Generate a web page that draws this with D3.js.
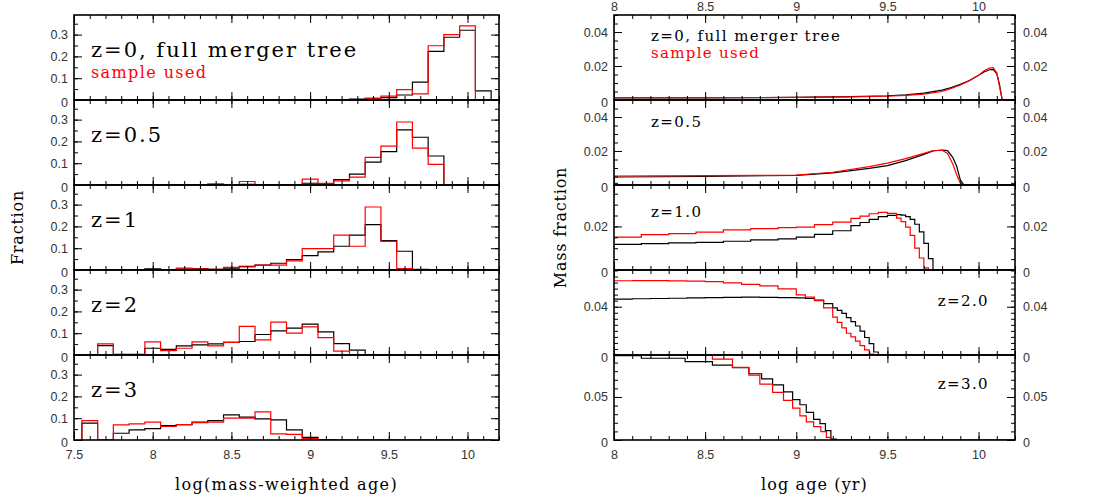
<!DOCTYPE html>
<html>
<head>
<meta charset="utf-8">
<script src="https://cdn.jsdelivr.net/npm/d3@7"></script>
<style>
  body { margin: 0; background: #fff; }
  .tick text { font-family: "Liberation Sans", Arial, sans-serif; font-size: 12.5px; fill: #333; }
  .lab { font-family: "DejaVu Serif", serif; }
</style>
</head>
<body>
<div id="svgchart"></div>
<script>
// ---- left: histograms of mass-weighted age (bin centres, width 0.1) ----
const binCenters = [7.6, 7.7, 7.8, 7.9, 8.0, 8.1, 8.2, 8.3, 8.4, 8.5, 8.6, 8.7, 8.8,
  8.9, 9.0, 9.1, 9.2, 9.3, 9.4, 9.5, 9.6, 9.7, 9.8, 9.9, 10.0, 10.1];

const histFullZ0 = [0, 0, 0, 0, 0, 0, 0, 0, 0, 0, 0, 0, 0, 0, 0, 0, 0,
  0.004, 0.008, 0.011, 0.023, 0.082, 0.223, 0.288, 0.32, 0.042];
const histSampleZ0 = [0, 0, 0, 0, 0, 0, 0, 0, 0, 0, 0, 0, 0, 0, 0, 0, 0,
  0.002, 0.008, 0.018, 0.048, 0.028, 0.249, 0.30, 0.34, 0];

const histFullZ05 = [0, 0, 0, 0, 0, 0, 0, 0, 0.002, 0, 0.003, 0, 0, 0,
  0.008, 0.005, 0.025, 0.05, 0.105, 0.153, 0.253, 0.219, 0.133, 0, 0, 0];
const histSampleZ05 = [0, 0, 0, 0, 0, 0, 0, 0, 0.005, 0, 0.016, 0, 0, 0,
  0.027, 0.008, 0.019, 0.036, 0.127, 0.178, 0.289, 0.169, 0.095, 0, 0, 0];

const histFullZ1 = [0, 0, 0, 0, 0.005, 0.002, 0.004, 0.006, 0.003, 0.008, 0.017, 0.022,
  0.031, 0.048, 0.066, 0.083, 0.109, 0.16, 0.208, 0.135, 0.086, 0.003, 0, 0, 0, 0];
const histSampleZ1 = [0, 0, 0, 0, 0.002, 0.001, 0.009, 0.005, 0.003, 0.012, 0.014, 0.022,
  0.022, 0.042, 0.098, 0.098, 0.16, 0.109, 0.289, 0.131, 0.006, 0, 0, 0, 0, 0];

const histFullZ2 = [0, 0.043, 0.003, 0.003, 0.031, 0.026, 0.042, 0.046, 0.051, 0.058, 0.062,
  0.094, 0.111, 0.123, 0.142, 0.106, 0.052, 0.022, 0, 0, 0, 0, 0, 0, 0, 0];
const histSampleZ2 = [0, 0.051, 0, 0, 0.06, 0.02, 0.031, 0.06, 0.042, 0.058, 0.131,
  0.069, 0.151, 0.1, 0.129, 0.08, 0.018, 0, 0, 0, 0, 0, 0, 0, 0, 0];

const histFullZ3 = [0.077, 0, 0.031, 0.046, 0.052, 0.066, 0.071, 0.082, 0.089, 0.115, 0.105,
  0.097, 0.092, 0.046, 0.012, 0.002, 0, 0, 0, 0, 0, 0, 0, 0, 0, 0];
const histSampleZ3 = [0.089, 0, 0.069, 0.074, 0.082, 0.062, 0.071, 0.08, 0.082, 0.1, 0.1,
  0.129, 0.028, 0.026, 0.006, 0, 0, 0, 0, 0, 0, 0, 0, 0, 0, 0];

const leftLabels = ['z=0, full merger tree', 'z=0.5', 'z=1', 'z=2', 'z=3'];
const leftTicks = [0, 0.1, 0.2, 0.3];
const leftXTicks = [7.5, 8, 8.5, 9, 9.5, 10];

// ---- right: mass fraction vs log age ----
const ageZ0 = [8.0, 8.5, 9.0, 9.3, 9.5, 9.6, 9.7, 9.8, 9.85, 9.9, 9.95, 10.0, 10.03, 10.06, 10.08, 10.1, 10.115, 10.13, 10.2];
const fullZ0 = [0.0012, 0.0013, 0.0015, 0.002, 0.0025, 0.003, 0.004, 0.0058, 0.0073, 0.0092, 0.0115, 0.0145, 0.0165, 0.0178, 0.018, 0.0155, 0.009, 0, 0];
const sampleZ0 = [0.0014, 0.0014, 0.0015, 0.0018, 0.0022, 0.0027, 0.0035, 0.005, 0.0068, 0.0088, 0.0113, 0.0145, 0.0172, 0.0188, 0.019, 0.016, 0.008, 0, 0];

const ageZ05 = [8.0, 8.5, 9.0, 9.2, 9.4, 9.5, 9.6, 9.7, 9.75, 9.8, 9.83, 9.86, 9.88, 9.9, 9.92, 10.2];
const fullZ05 = [0.0047, 0.005, 0.0057, 0.0071, 0.0098, 0.0114, 0.0143, 0.018, 0.02, 0.0206, 0.0202, 0.016, 0.011, 0.003, 0, 0];
const sampleZ05 = [0.0053, 0.0055, 0.0058, 0.0075, 0.0108, 0.0129, 0.0155, 0.0186, 0.0203, 0.0204, 0.0185, 0.012, 0.006, 0.001, 0, 0];

const ageZ1 = [8.0, 8.15, 8.3, 8.45, 8.6, 8.75, 8.9, 9.0, 9.1, 9.2, 9.3, 9.35, 9.4, 9.45, 9.5,
  9.55, 9.575, 9.6, 9.625, 9.65, 9.675, 9.7, 9.725, 9.75, 10.2];
const fullZ1 = [0.0118, 0.0121, 0.0124, 0.0127, 0.0132, 0.0138, 0.0143, 0.0151, 0.0163, 0.018, 0.0204, 0.0218, 0.0232, 0.0245, 0.0251,
  0.0254, 0.0252, 0.0245, 0.0232, 0.021, 0.0175, 0.0122, 0.0052, 0, 0];
const sampleZ1 = [0.0151, 0.0162, 0.0167, 0.0174, 0.0184, 0.019, 0.0194, 0.0197, 0.0208, 0.022, 0.0237, 0.0247, 0.0258, 0.0264, 0.026,
  0.0238, 0.0222, 0.0197, 0.0159, 0.01, 0.0055, 0.001, 0, 0, 0];

const ageZ2 = [8.0, 8.1, 8.2, 8.3, 8.4, 8.5, 8.6, 8.7, 8.8, 8.9, 9.0, 9.05, 9.1, 9.15, 9.2, 9.225,
  9.25, 9.275, 9.3, 9.325, 9.35, 9.375, 9.4, 9.425, 9.45, 10.2];
const fullZ2 = [0.0463, 0.0466, 0.0468, 0.047, 0.0473, 0.0476, 0.0478, 0.048, 0.0478, 0.0476, 0.0473, 0.0468, 0.0455, 0.0425, 0.039, 0.037,
  0.0345, 0.031, 0.0276, 0.024, 0.0198, 0.0145, 0.0095, 0.0025, 0, 0];
const sampleZ2 = [0.0615, 0.0616, 0.0616, 0.0614, 0.0612, 0.0608, 0.0598, 0.0585, 0.0572, 0.0548, 0.0498, 0.048, 0.045, 0.039, 0.0314, 0.027,
  0.0225, 0.018, 0.015, 0.0115, 0.0078, 0.0042, 0.0008, 0, 0, 0];

const ageFullZ3 = [8.0, 8.15, 8.39, 8.54, 8.65, 8.74, 8.81, 8.87, 8.93, 8.98, 9.02, 9.055, 9.095, 9.13, 9.16, 9.19, 9.22, 10.2];
const fullZ3 = [0.098, 0.095, 0.091, 0.087, 0.084, 0.077, 0.071, 0.064, 0.056, 0.047, 0.041, 0.032, 0.024, 0.019, 0.011, 0.001, 0, 0];
const ageSampleZ3 = [8.0, 8.54, 8.65, 8.74, 8.80, 8.87, 8.93, 8.98, 9.02, 9.055, 9.095, 9.135, 9.165, 9.19, 10.2];
const sampleZ3 = [0.11, 0.094, 0.0845, 0.0755, 0.065, 0.0554, 0.046, 0.037, 0.028, 0.021, 0.0155, 0.0097, 0.003, 0, 0];

const rightLabels = ['z=0, full merger tree', 'z=0.5', 'z=1.0', 'z=2.0', 'z=3.0'];
const rightYMax = [0.05, 0.05, 0.039, 0.0704, 0.0988];
const rightTicks = [[0, 0.02, 0.04], [0, 0.02, 0.04], [0, 0.02], [0, 0.04], [0, 0.05]];
const rightMinorStep = [0.005, 0.005, 0.005, 0.005, 0.01];
const rightXTicks = [8, 8.5, 9, 9.5, 10];

// ---- layout ----
var width = 1093, height = 503;
var panelTops = [15, 100, 185, 270, 355], panelH = 85;
var leftX0 = 74, leftX1 = 499, rightX0 = 614, rightX1 = 1015;

var svg = d3.select('#svgchart').append('svg')
  .attr('width', width).attr('height', height);

var xL = d3.scaleLinear().domain([7.5, 10.2]).range([leftX0, leftX1]);
var xR = d3.scaleLinear().domain([8, 10.2]).range([rightX0, rightX1]);

function range(a, b, s) {
  return d3.range(Math.round(a / s), Math.round(b / s) + 1).map(k => +(k * s).toFixed(4));
}

// x ticks on top + bottom of a panel, inward; optional labels
function xTicks(g, x, top, dom, labelBottom, labelTop, labels) {
  var minor = range(dom[0], dom[1], 0.1);
  var major = range(Math.ceil(dom[0] * 2) / 2, dom[1], 0.5);
  g.append('g').attr('transform', 'translate(0,' + (top + panelH) + ')')
    .call(d3.axisBottom(x).tickValues(minor).tickSize(-4).tickFormat(''));
  g.append('g').attr('transform', 'translate(0,' + (top + panelH) + ')')
    .call(d3.axisBottom(x).tickValues(labelBottom ? labels : major).tickSize(-8).tickPadding(10)
      .tickFormat(labelBottom ? d3.format('') : ''));
  g.append('g').attr('transform', 'translate(0,' + top + ')')
    .call(d3.axisTop(x).tickValues(minor).tickSize(-4).tickFormat(''));
  g.append('g').attr('transform', 'translate(0,' + top + ')')
    .call(d3.axisTop(x).tickValues(labelTop ? labels : major).tickSize(-8).tickPadding(4)
      .tickFormat(labelTop ? d3.format('') : ''));
}

function yTicks(g, y, xPos, side, major, minor, showLabels) {
  var ax = side === 'left' ? d3.axisLeft : d3.axisRight;
  g.append('g').attr('transform', 'translate(' + xPos + ',0)')
    .call(ax(y).tickValues(minor).tickSize(-4).tickFormat(''));
  var a = g.append('g').attr('transform', 'translate(' + xPos + ',0)')
    .call(ax(y).tickValues(major).tickSize(-8).tickPadding(side === 'left' ? 6 : 8)
      .tickFormat(showLabels ? d3.format('') : ''));
  a.selectAll('.tick text').filter(d => d === 0).attr('dy', '0.55em');
}

function cleanAxes(g) {
  g.selectAll('.domain').remove();
  g.selectAll('.tick line').attr('stroke', '#000').attr('stroke-width', 1);
}

var line = d3.line();

// ---- left plot ----
var leftPanels = [
  [histFullZ0, histSampleZ0], [histFullZ05, histSampleZ05], [histFullZ1, histSampleZ1],
  [histFullZ2, histSampleZ2], [histFullZ3, histSampleZ3]
];
var half = (binCenters[1] - binCenters[0]) / 2;

function histPoints(vals) {
  var pts = [[binCenters[0] - half, 0]];
  vals.forEach(function (v, i) {
    pts.push([binCenters[i] - half, v]);
    pts.push([binCenters[i] + half, v]);
  });
  pts.push([binCenters[binCenters.length - 1] + half, 0]);
  return pts;
}

leftPanels.forEach(function (p, i) {
  var top = panelTops[i];
  var y = d3.scaleLinear().domain([0, 0.39]).range([top + panelH, top]);
  var g = svg.append('g');
  var id = 'clipL' + i;
  svg.append('clipPath').attr('id', id).append('rect')
    .attr('x', leftX0).attr('y', top).attr('width', leftX1 - leftX0).attr('height', panelH);
  var colors = ['#000', '#ff0000'];
  p.forEach(function (vals, k) {
    g.append('path')
      .attr('clip-path', 'url(#' + id + ')')
      .attr('d', line(histPoints(vals).map(d => [xL(d[0]), y(d[1])])))
      .attr('fill', 'none').attr('stroke', colors[k]).attr('stroke-width', 1.2);
  });
  var ax = svg.append('g');
  yTicks(ax, y, leftX0, 'left', leftTicks, range(0, 0.35, 0.05), true);
  yTicks(ax, y, leftX1, 'right', leftTicks, range(0, 0.35, 0.05), false);
  xTicks(ax, xL, top, [7.5, 10.2], i === 4, false, leftXTicks);
  cleanAxes(ax);
  svg.append('rect').attr('x', leftX0).attr('y', top).attr('width', leftX1 - leftX0)
    .attr('height', panelH).attr('fill', 'none').attr('stroke', '#000').attr('stroke-width', 1.6);
  svg.append('text').attr('class', 'lab').attr('x', 91).attr('y', top + 42)
    .attr('font-size', 21).attr('letter-spacing', 2).text(leftLabels[i]);
});
svg.append('text').attr('class', 'lab').attr('x', 91).attr('y', 78)
  .attr('font-size', 16).attr('fill', '#ff0000').attr('letter-spacing', 1.4).text('sample used');

// ---- right plot ----
var rightPanels = [
  { fa: ageZ0, f: fullZ0, sa: ageZ0, s: sampleZ0, curve: d3.curveLinear },
  { fa: ageZ05, f: fullZ05, sa: ageZ05, s: sampleZ05, curve: d3.curveLinear },
  { fa: ageZ1, f: fullZ1, sa: ageZ1, s: sampleZ1, curve: d3.curveStepAfter },
  { fa: ageZ2, f: fullZ2, sa: ageZ2, s: sampleZ2, curve: d3.curveStepAfter },
  { fa: ageFullZ3, f: fullZ3, sa: ageSampleZ3, s: sampleZ3, curve: d3.curveStepAfter }
];
var labelPos = [
  { x: 651, dy: 26, anchor: 'start' }, { x: 651, dy: 27, anchor: 'start' },
  { x: 651, dy: 32, anchor: 'start' }, { x: 989, dy: 36, anchor: 'end' },
  { x: 989, dy: 34, anchor: 'end' }
];

rightPanels.forEach(function (p, i) {
  var top = panelTops[i];
  var y = d3.scaleLinear().domain([0, rightYMax[i]]).range([top + panelH, top]);
  var id = 'clipR' + i;
  svg.append('clipPath').attr('id', id).append('rect')
    .attr('x', rightX0).attr('y', top).attr('width', rightX1 - rightX0).attr('height', panelH);
  var g = svg.append('g').attr('clip-path', 'url(#' + id + ')');
  var ln = d3.line().x(d => xR(d[0])).y(d => y(d[1])).curve(p.curve);
  g.append('path').attr('d', ln(p.fa.map((a, k) => [a, p.f[k]])))
    .attr('fill', 'none').attr('stroke', '#000').attr('stroke-width', 1.2);
  g.append('path').attr('d', ln(p.sa.map((a, k) => [a, p.s[k]])))
    .attr('fill', 'none').attr('stroke', '#ff0000').attr('stroke-width', 1.2);
  var ax = svg.append('g');
  var minor = range(0, rightYMax[i], rightMinorStep[i]);
  yTicks(ax, y, rightX0, 'left', rightTicks[i], minor, true);
  yTicks(ax, y, rightX1, 'right', rightTicks[i], minor, true);
  xTicks(ax, xR, top, [8, 10.2], i === 4, i === 0, rightXTicks);
  cleanAxes(ax);
  svg.append('rect').attr('x', rightX0).attr('y', top).attr('width', rightX1 - rightX0)
    .attr('height', panelH).attr('fill', 'none').attr('stroke', '#000').attr('stroke-width', 1.6);
  svg.append('text').attr('class', 'lab').attr('x', labelPos[i].x).attr('y', top + labelPos[i].dy)
    .attr('text-anchor', labelPos[i].anchor).attr('font-size', 15).attr('letter-spacing', 1.4)
    .text(rightLabels[i]);
});
svg.append('text').attr('class', 'lab').attr('x', 651).attr('y', 58)
  .attr('font-size', 15).attr('fill', '#ff0000').attr('letter-spacing', 1.3).text('sample used');

// ---- axis titles ----
svg.append('text').attr('class', 'lab').attr('text-anchor', 'middle')
  .attr('transform', 'translate(23,227.5) rotate(-90)').attr('font-size', 16)
  .attr('letter-spacing', 0.8).text('Fraction');
svg.append('text').attr('class', 'lab').attr('text-anchor', 'middle')
  .attr('transform', 'translate(566,227.5) rotate(-90)').attr('font-size', 16)
  .attr('letter-spacing', 0.8).text('Mass fraction');
svg.append('text').attr('class', 'lab').attr('text-anchor', 'middle')
  .attr('x', (leftX0 + leftX1) / 2).attr('y', 490).attr('font-size', 16)
  .attr('letter-spacing', 1.35).text('log(mass-weighted age)');
svg.append('text').attr('class', 'lab').attr('text-anchor', 'middle')
  .attr('x', (rightX0 + rightX1) / 2).attr('y', 490).attr('font-size', 16)
  .attr('letter-spacing', 1.1).text('log age (yr)');
</script>
</body>
</html>
